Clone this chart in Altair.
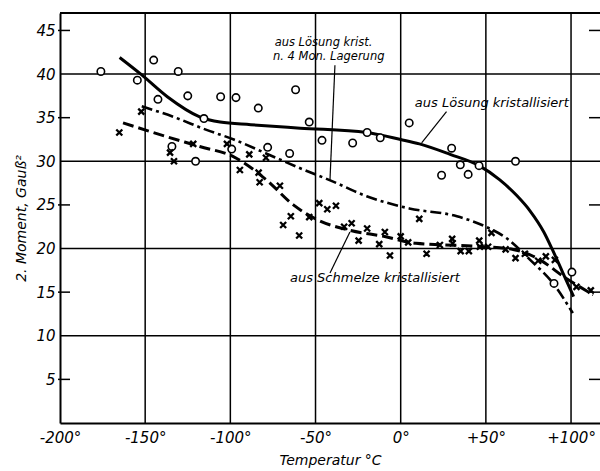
import altair as alt
import pandas as pd

# ---- data ----
# aus Lösung kristallisiert (circles)
circ_t = [-176, -154.6, -145, -130.6, -142.5, -125, -115.5, -105.7, -96.7, -83.6, -61.7,
          -134.3, -120.4, -99.2, -78.1, -65.2, -53.7, -46.2, -28.2, -19.7, -12, 5,
          29.9, 35, 46, 24, 39.6, 67.4, 100.5, 90]
circ_m = [40.3, 39.3, 41.6, 40.3, 37.1, 37.5, 34.9, 37.4, 37.3, 36.1, 38.2,
          31.7, 30.0, 31.4, 31.6, 30.9, 34.5, 32.4, 32.1, 33.3, 32.7, 34.4,
          31.5, 29.6, 29.5, 28.4, 28.5, 30.0, 17.3, 16.0]

# aus Schmelze kristallisiert (crosses)
cross_t = [-165.2, -152.3, -135.4, -133.1, -121.8, -102, -94.4, -88.9, -83.4, -82.8, -79.1,
           -70.9, -69, -64.5, -59.6, -53.7, -47.8, -43.1, -38, -33.2, -28.8, -24.7, -19.7,
           -12.6, -9.3, -6.3, 0, 4.4, 10.9, 15.2, 23, 30.2, 30.5, 35.2, 40, 46.1, 46.5,
           51.3, 53.3, 61.6, 67.4, 72.9, 80.7, 85.2, 90.5, 103.2, 111.6]
cross_m = [33.3, 35.7, 31.0, 30.0, 32.0, 32.0, 29.0, 30.8, 28.7, 27.6, 30.4,
           27.2, 22.7, 23.7, 21.5, 23.6, 25.2, 24.5, 24.9, 22.5, 22.9, 20.9, 22.3,
           20.5, 21.9, 19.2, 21.4, 20.7, 23.4, 19.4, 20.4, 21.1, 20.6, 19.7, 19.7, 20.9, 20.2,
           20.2, 21.8, 19.9, 18.9, 19.4, 18.6, 19.1, 18.7, 15.6, 15.2]

# curves
sol_t = [-165, -152, -137, -118, -106, -88, -59, -20, 0, 11, 29, 46, 58, 68, 76, 84, 89, 95, 101.5]
sol_m = [41.9, 39.9, 37.4, 35.1, 34.5, 34.2, 33.8, 33.3, 32.5, 32.0, 30.8, 29.5, 27.9, 26.1, 24.3, 21.9, 19.9, 17.3, 14.5]

mon_t = [-152, -133.5, -114, -98, -79, -59, -40, -20, 5, 33, 50, 62, 76, 89.5, 101]
mon_m = [36.3, 35.1, 33.6, 32.5, 30.9, 29.2, 27.7, 26.0, 24.6, 23.7, 22.5, 21.2, 18.7, 16.0, 12.6]

sch_t = [-163, -137, -118, -98, -79, -63, -49, -30, -10, 9, 50, 66, 80, 97, 113]
sch_m = [34.4, 32.8, 31.7, 30.5, 27.9, 25.0, 23.3, 22.1, 21.4, 20.6, 20.2, 19.9, 18.9, 16.6, 14.7]

x_ticks = [-200, -150, -100, -50, 0, 50, 100]
y_ticks = [5, 10, 15, 20, 25, 30, 35, 40, 45]
grid_x = [-150, -100, -50, 0, 50, 100]
grid_y = [10, 20, 30, 40]
minor_y = [5, 15, 25, 35, 45]

ann_text = ["aus Lösung krist.", "n. 4 Mon. Lagerung", "aus Lösung kristallisiert",
            "aus Schmelze kristallisiert"]
ann_t = [-74, -75, 8.3, -65]
ann_m = [43.6, 42.0, 36.7, 16.6]
ann_size = [11.5, 11.5, 13, 13]

lead_t = [-38.6, 26.9, -29.8]
lead_m = [41.0, 35.7, 21.9]
lead_t2 = [-41.5, 12.3, -41.5]
lead_m2 = [27.9, 32.1, 17.2]

# ---- chart ----
FONT = "DejaVu Sans"
xs = alt.Scale(domain=[-200, 117], nice=False, zero=False)
ys = alt.Scale(domain=[0, 47], nice=False, zero=False)

x_axis = alt.Axis(values=x_ticks, tickSize=0, grid=False, domainColor="black", domainWidth=2,
                  labelExpr="datum.value > 0 ? '+' + datum.value + '°' : datum.value + '°'",
                  labelFont=FONT, labelFontStyle="italic", labelFontSize=15, labelColor="black",
                  labelPadding=7, labelFlush=False,
                  title="Temperatur °C", titleFont=FONT, titleFontStyle="italic",
                  titleFontWeight="normal", titleFontSize=14, titleColor="black", titlePadding=8)
y_axis = alt.Axis(values=y_ticks, tickSize=0, grid=False, domainColor="black", domainWidth=2,
                  labelFont=FONT, labelFontStyle="italic", labelFontSize=15, labelColor="black",
                  labelPadding=5, labelFlush=False,
                  title="2. Moment, Gauß²", titleFont=FONT, titleFontStyle="italic",
                  titleFontWeight="normal", titleFontSize=14, titleColor="black", titlePadding=7)

def X(f):
    return alt.X(f, scale=xs, axis=x_axis)

def Y(f):
    return alt.Y(f, scale=ys, axis=y_axis)

df_gx = pd.DataFrame({"gx": grid_x})
df_gy = pd.DataFrame({"gy": grid_y})
df_my = pd.DataFrame({"my": minor_y})

gv = alt.Chart(df_gx).mark_rule(color="black", strokeWidth=1.5).encode(x=X("gx:Q"))
gh = alt.Chart(df_gy).mark_rule(color="black", strokeWidth=1.5).encode(y=Y("gy:Q"))
tl = alt.Chart(df_my).mark_rule(color="black", strokeWidth=1.5).encode(
    y=Y("my:Q"), x=alt.value(-2), x2=alt.value(10))
tr = alt.Chart(df_my).mark_rule(color="black", strokeWidth=1.5).encode(
    y=Y("my:Q"), x=alt.value(529), x2=alt.value(540))
top = alt.Chart(df_gx.head(1)).mark_rule(color="black", strokeWidth=2).encode(
    y=alt.value(0), x=alt.value(0), x2=alt.value(540))

def line(t, m, width, dash=None):
    df = pd.DataFrame({"t": t, "m": m})
    kw = dict(color="black", strokeWidth=width, interpolate="monotone")
    if dash:
        kw["strokeDash"] = dash
    return alt.Chart(df).mark_line(**kw).encode(x=X("t:Q"), y=Y("m:Q"))

l_sol = line(sol_t, sol_m, 3)
l_mon = line(mon_t, mon_m, 2.6, [11, 4, 3, 4])
l_sch = line(sch_t, sch_m, 3, [11, 5])

circ = alt.Chart(pd.DataFrame({"t": circ_t, "m": circ_m})).mark_point(
    shape="circle", filled=True, fill="white", stroke="black", strokeWidth=1.6, size=55, opacity=1
).encode(x=X("t:Q"), y=Y("m:Q"))

cross = alt.Chart(pd.DataFrame({"t": cross_t, "m": cross_m})).mark_point(
    shape="M-1,-1L1,1M-1,1L1,-1", filled=False, stroke="black", strokeWidth=2.3, size=36, opacity=1
).encode(x=X("t:Q"), y=Y("m:Q"))

ann = alt.Chart(pd.DataFrame({"t": ann_t, "m": ann_m, "txt": ann_text, "fs": ann_size})).mark_text(
    align="left", baseline="middle", font=FONT, fontStyle="italic", color="black"
).encode(x=X("t:Q"), y=Y("m:Q"),
         text="txt:N", size=alt.Size("fs:Q", scale=None, legend=None))

lead = alt.Chart(pd.DataFrame({"t": lead_t, "m": lead_m, "t2": lead_t2, "m2": lead_m2})).mark_rule(
    color="black", strokeWidth=1.2
).encode(x=X("t:Q"), y=Y("m:Q"), x2="t2:Q", y2="m2:Q")

chart = alt.layer(gv, gh, tl, tr, top, l_sol, l_mon, l_sch, lead, circ, cross, ann).properties(
    width=540, height=410, autosize="none",
    padding={"left": 60, "top": 13, "right": 0, "bottom": 48},
    background="white",
).configure_view(stroke=None)

chart.save("out.html", embed_options={"renderer": "svg", "actions": False})
